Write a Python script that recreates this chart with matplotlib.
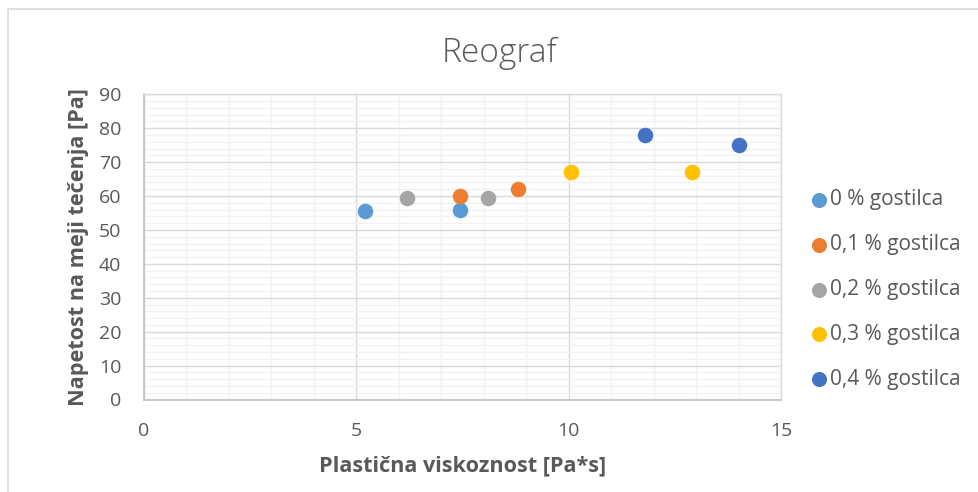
import matplotlib
matplotlib.use("Agg")
import matplotlib.pyplot as plt
from matplotlib.patches import Rectangle
from matplotlib.ticker import MultipleLocator

plt.rcParams['font.family'] = ['Open Sans', 'DejaVu Sans']

# Rheogram data: plastic viscosity [Pa*s] vs. yield stress [Pa]
series_labels = ["0 % gostilca", "0,1 % gostilca", "0,2 % gostilca",
                 "0,3 % gostilca", "0,4 % gostilca"]
series_colors = ["#5B9BD5", "#ED7D31", "#A5A5A5", "#FFC000", "#4472C4"]
visc_0 = [5.2, 7.45]
stress_0 = [55.5, 56]
visc_01 = [7.45, 8.8]
stress_01 = [60, 62]
visc_02 = [6.2, 8.1]
stress_02 = [59.5, 59.5]
visc_03 = [10.05, 12.9]
stress_03 = [67, 67]
visc_04 = [11.8, 14.0]
stress_04 = [78, 75]

xs = [visc_0, visc_01, visc_02, visc_03, visc_04]
ys = [stress_0, stress_01, stress_02, stress_03, stress_04]

x_ticks = [0, 5, 10, 15]
y_ticks = list(range(0, 91, 10))

W, H = 979, 492
fig = plt.figure(figsize=(W / 100, H / 100), dpi=100)
fig.patch.set_facecolor("white")

# outer chart frame
fig.add_artist(Rectangle((8 / W, -0.05), 1.2, 1 - 9 / H + 0.05,
                         transform=fig.transFigure, fill=False,
                         edgecolor="#d9d9d9", linewidth=1.2))

ax = fig.add_axes([144 / W, (H - 399.5) / H, (781 - 144) / W, (399.5 - 94.3) / H])
ax.set_xlim(0, 15)
ax.set_ylim(0, 90)

ax.xaxis.set_major_locator(MultipleLocator(5))
ax.xaxis.set_minor_locator(MultipleLocator(1))
ax.yaxis.set_major_locator(MultipleLocator(10))
ax.yaxis.set_minor_locator(MultipleLocator(2))
ax.set_xticks(x_ticks)
ax.set_yticks(y_ticks)

ax.grid(which="minor", color="#f2f2f2", linewidth=1.0, zorder=0)
ax.grid(which="major", color="#d9d9d9", linewidth=1.0, zorder=0.5)
ax.set_axisbelow(True)

for side in ("top", "right"):
    ax.spines[side].set_color("#d9d9d9")
    ax.spines[side].set_linewidth(1.0)
for side in ("left", "bottom"):
    ax.spines[side].set_color("#bfbfbf")
    ax.spines[side].set_linewidth(1.2)

ax.tick_params(which="both", length=0)
ax.tick_params(axis="x", pad=16.5, labelsize=14, labelcolor="#595959")
ax.tick_params(axis="y", pad=16.5, labelsize=14, labelcolor="#595959")

for x, y, c, lab in zip(xs, ys, series_colors, series_labels):
    ax.scatter(x, y, s=125, color=c, label=lab, zorder=3, linewidths=0)

ax.set_xlabel("Plastična viskoznost [Pa*s]", fontsize=15.6, fontweight="bold",
              color="#595959", labelpad=11)
ax.set_ylabel("Napetost na meji tečenja [Pa]", fontsize=15.6, fontweight="bold",
              color="#595959", labelpad=7)

fig.text(499 / W, 1 - 53 / H, "Reograf", ha="center", va="center",
         fontsize=24, color="#595959", fontweight="light")

leg = fig.legend(loc="center left", bbox_to_anchor=(811 / W, 1 - 289.5 / H),
                 frameon=False, fontsize=15, labelcolor="#595959",
                 handlelength=0.75, handletextpad=0.18, labelspacing=1.14,
                 markerscale=0.97, borderaxespad=0, borderpad=0)

fig.savefig("out.png", dpi=100, facecolor="white")
